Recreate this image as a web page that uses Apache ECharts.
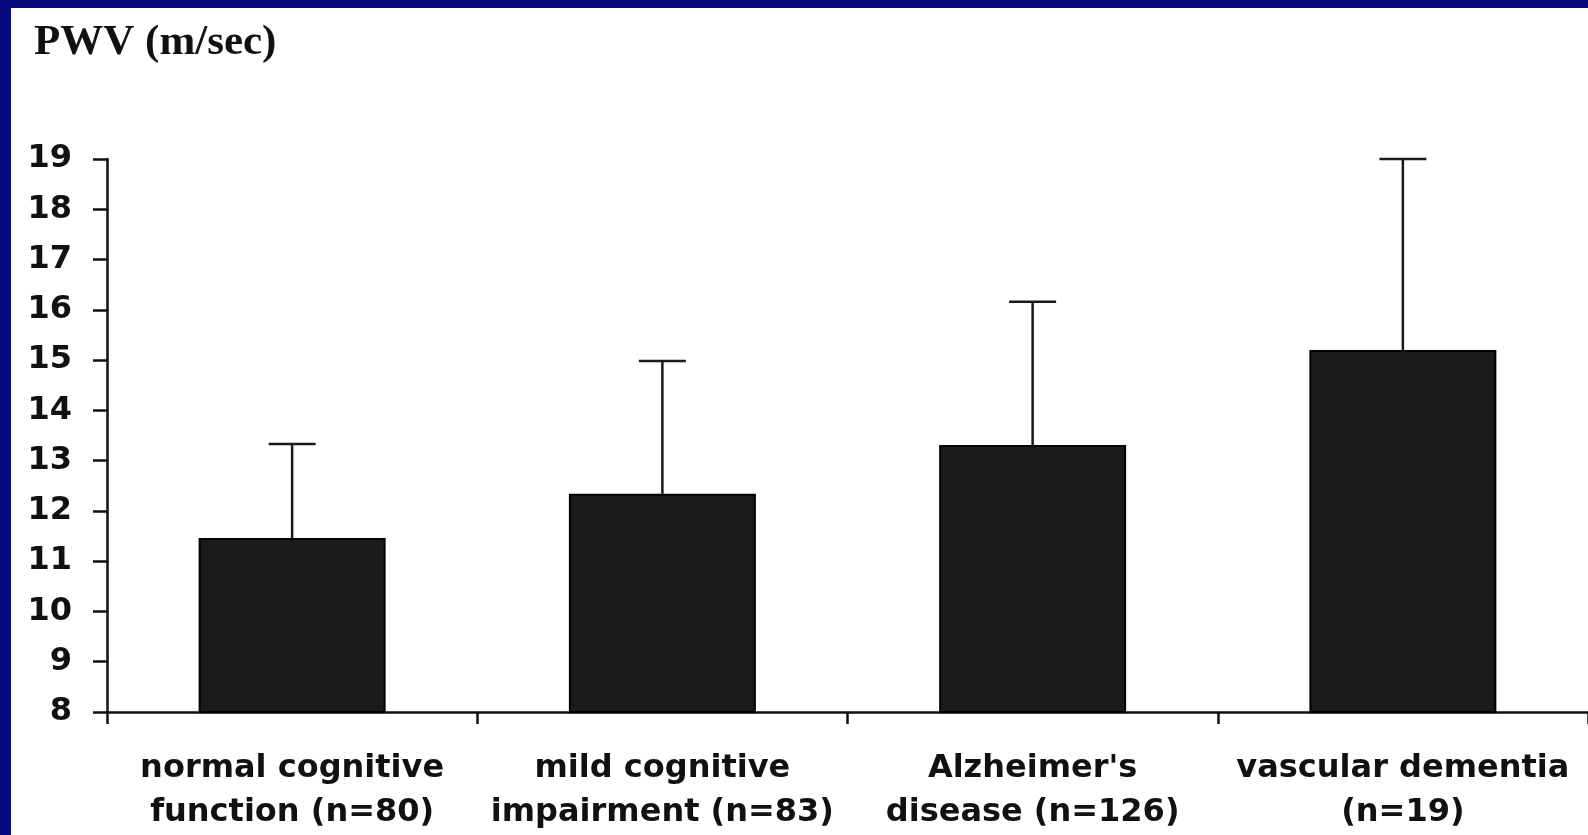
<!DOCTYPE html>
<html>
<head>
<meta charset="utf-8">
<script src="https://cdn.jsdelivr.net/npm/echarts@6/dist/echarts.min.js"></script>
<style>
  html, body { margin: 0; padding: 0; background: #06097b; width: 1588px; height: 835px; overflow: hidden; }
  #chart { position: absolute; left: 11px; top: 8px; width: 1577px; height: 827px; background: #ffffff; }
</style>
</head>
<body>
<div id="chart"></div>
<script>
const categories = [
  'normal cognitive\nfunction (n=80)',
  'mild cognitive\nimpairment (n=83)',
  "Alzheimer's\ndisease (n=126)",
  'vascular dementia\n(n=19)'
];
const meanPWV = [11.46, 12.34, 13.31, 15.2];
const upperSD = [13.33, 14.98, 16.16, 19.0];
const yTicks = [8, 9, 10, 11, 12, 13, 14, 15, 16, 17, 18, 19];

const chart = echarts.init(document.getElementById('chart'));
const labelFont = '"DejaVu Sans", Arial, sans-serif';

chart.setOption({
  animation: false,
  backgroundColor: '#ffffff',
  title: {
    text: 'PWV (m/sec)',
    left: 18,
    top: 8,
    textStyle: { fontFamily: '"Liberation Serif", "Times New Roman", serif', fontWeight: 'bold', fontSize: 43, color: '#111' }
  },
  grid: { left: 96, right: 0, top: 151, bottom: 122, containLabel: false },
  xAxis: {
    type: 'category',
    data: categories,
    axisLine: { lineStyle: { color: '#111', width: 2.5 } },
    axisTick: { show: true, alignWithLabel: false, length: 12, lineStyle: { color: '#111', width: 2.5 } },
    axisLabel: {
      interval: 0,
      margin: 35,
      fontFamily: labelFont,
      fontWeight: 'bold',
      fontSize: 32,
      lineHeight: 44,
      color: '#111'
    }
  },
  yAxis: {
    type: 'value',
    min: yTicks[0],
    max: yTicks[yTicks.length - 1],
    interval: 1,
    splitLine: { show: false },
    axisLine: { show: true, lineStyle: { color: '#111', width: 2.5 } },
    axisTick: { show: true, length: 14, lineStyle: { color: '#111', width: 2.5 } },
    axisLabel: {
      margin: 35,
      fontFamily: labelFont,
      fontWeight: 'bold',
      fontSize: 32,
      color: '#111'
    }
  },
  series: [
    {
      type: 'bar',
      data: meanPWV,
      barWidth: '50.5%',
      itemStyle: { color: '#1b1b1b', borderColor: '#000', borderWidth: 2 }
    },
    {
      type: 'custom',
      data: meanPWV.map((m, i) => [i, m, upperSD[i]]),
      z: 1,
      renderItem: function (params, api) {
        const i = api.value(0);
        const base = api.coord([i, api.value(1)]);
        const top = api.coord([i, api.value(2)]);
        const half = 23.5;
        const style = { stroke: '#1a1a1a', lineWidth: 2.5 };
        return {
          type: 'group',
          children: [
            { type: 'line', shape: { x1: base[0], y1: base[1], x2: top[0], y2: top[1] }, style: style },
            { type: 'line', shape: { x1: top[0] - half, y1: top[1], x2: top[0] + half, y2: top[1] }, style: style }
          ]
        };
      }
    }
  ]
});
</script>
</body>
</html>
